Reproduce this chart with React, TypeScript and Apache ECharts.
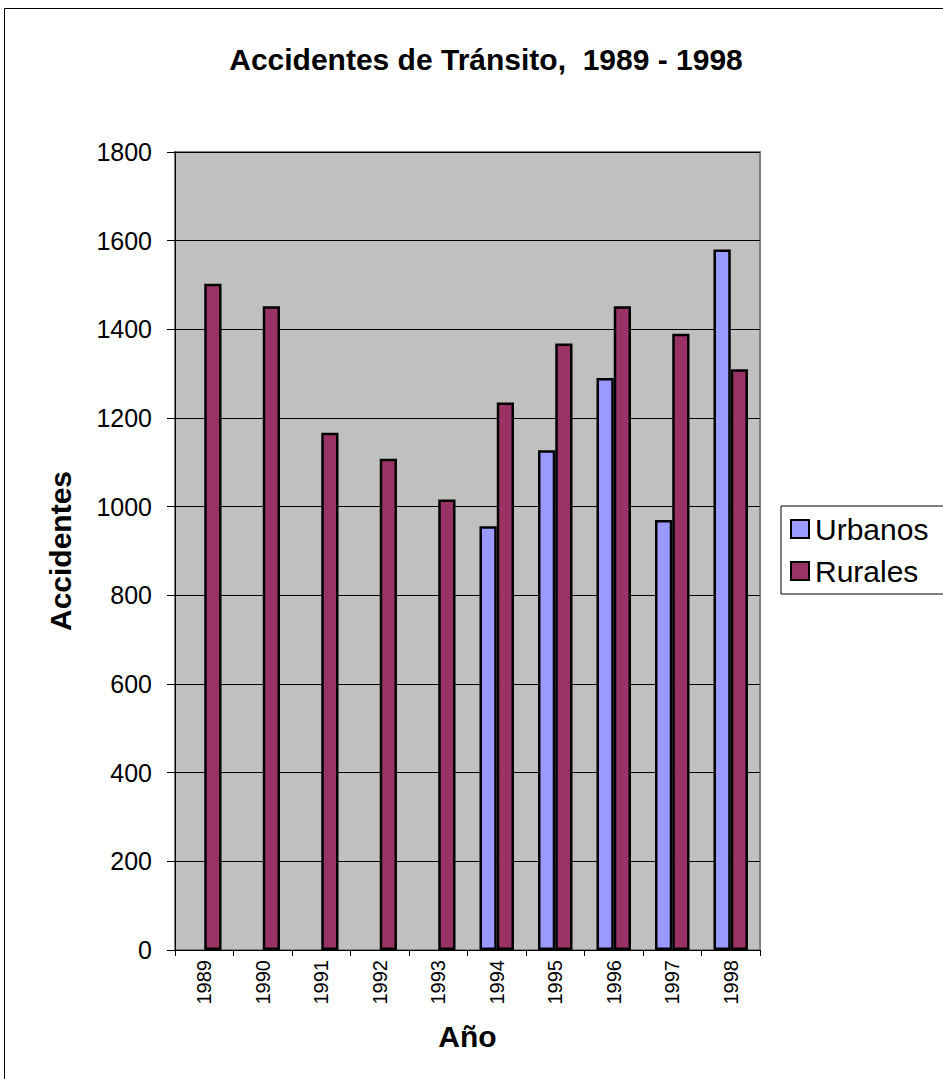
import React, { useEffect, useRef } from "react";
import * as echarts from "echarts";

const years = ["1989", "1990", "1991", "1992", "1993", "1994", "1995", "1996", "1997", "1998"];
const urbanos: (number | null)[] = [null, null, null, null, null, 956, 1127, 1290, 970, 1580];
const rurales: number[] = [1503, 1452, 1167, 1108, 1016, 1235, 1368, 1452, 1390, 1310];
const yTicks = { min: 0, max: 1800, interval: 200 };

const FONT = '"Liberation Sans", Arial, sans-serif';

export default function App() {
  const ref = useRef<HTMLDivElement>(null);
  useEffect(() => {
    if (!ref.current) return;
    const chart = echarts.init(ref.current, null, { renderer: "svg" });
    chart.setOption({
      animation: false,
      backgroundColor: "#ffffff",
      textStyle: { fontFamily: FONT, color: "#000" },
      title: {
        text: "Accidentes de Tránsito,  1989 - 1998",
        left: 481,
        textAlign: "center",
        top: 39,
        textStyle: { fontFamily: FONT, fontSize: 30, fontWeight: "bold", color: "#000" },
      },
      graphic: [
        {
          type: "rect",
          shape: { x: 4.5, y: 8.5, width: 1200, height: 1400 },
          style: { fill: "none", stroke: "#000", lineWidth: 1 },
          silent: true,
          z: 100,
        },
      ],
      legend: {
        orient: "vertical",
        left: 781,
        top: 506,
        itemWidth: 18,
        itemHeight: 18,
        itemGap: 12,
        padding: [8, 40, 8, 9],
        borderColor: "#000",
        borderWidth: 1,
        icon: "rect",
        textStyle: { fontFamily: FONT, fontSize: 30, color: "#000", padding: [0, 0, 0, 1] },
        data: ["Urbanos", "Rurales"],
      },
      grid: {
        left: 175,
        top: 152,
        width: 585,
        height: 798,
        show: true,
        backgroundColor: "#C0C0C0",
        borderColor: "#808080",
        borderWidth: 2,
        containLabel: false,
      },
      xAxis: {
        type: "category",
        data: years,
        name: "Año",
        nameLocation: "middle",
        nameGap: 71,
        nameTextStyle: { fontFamily: FONT, fontSize: 30, fontWeight: "bold", color: "#000" },
        axisLine: { lineStyle: { color: "#000", width: 1 } },
        axisTick: { show: true, length: 6, alignWithLabel: false, lineStyle: { color: "#000" } },
        axisLabel: { rotate: 90, fontSize: 20, margin: 10, color: "#000", fontFamily: FONT },
        splitLine: { show: false },
      },
      yAxis: {
        type: "value",
        min: yTicks.min,
        max: yTicks.max,
        interval: yTicks.interval,
        name: "Accidentes",
        nameLocation: "middle",
        nameGap: 100,
        nameTextStyle: { fontFamily: FONT, fontSize: 30, fontWeight: "bold", color: "#000" },
        axisLine: { show: true, lineStyle: { color: "#000", width: 1 } },
        axisTick: { show: true, length: 8, lineStyle: { color: "#000" } },
        axisLabel: {
          fontSize: 25,
          margin: 23,
          color: "#000",
          fontFamily: FONT,
          formatter: (v: number) => String(v),
        },
        splitLine: { show: true, lineStyle: { color: "#000", width: 1 } },
      },
      series: [
        {
          name: "Urbanos",
          type: "bar",
          data: urbanos,
          barGap: "0%",
          barCategoryGap: "41%",
          itemStyle: { color: "#9999FF", borderColor: "#000", borderWidth: 2.5 },
        },
        {
          name: "Rurales",
          type: "bar",
          data: rurales,
          barGap: "0%",
          barCategoryGap: "41%",
          itemStyle: { color: "#993366", borderColor: "#000", borderWidth: 2.5 },
        },
      ],
    });
    return () => chart.dispose();
  }, []);
  return (
    <div
      ref={ref}
      style={{ position: "absolute", left: 0, top: 0, width: 943, height: 1079 }}
    />
  );
}
